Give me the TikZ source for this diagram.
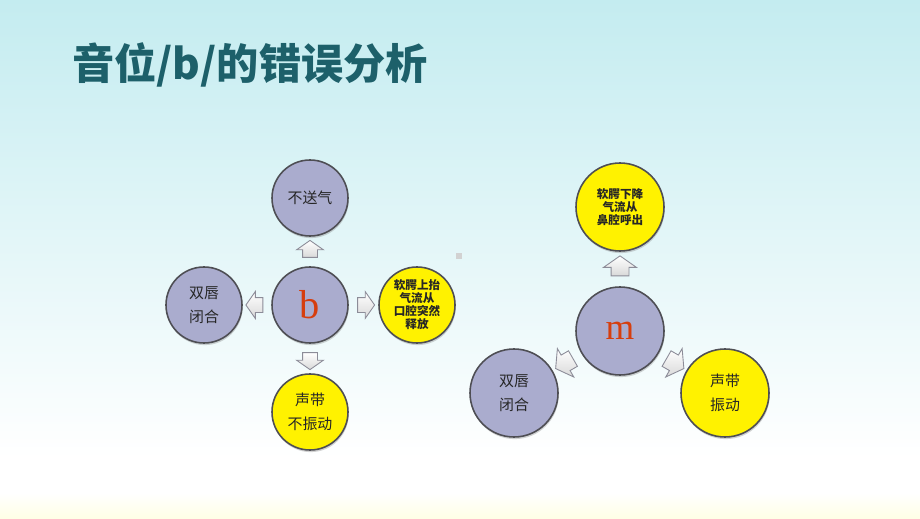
\documentclass[tikz,border=0pt]{standalone}
\usepackage{fontspec}
\setmainfont{Liberation Serif}
\newfontfamily\cjk{Noto Sans CJK SC}
\usetikzlibrary{shapes.arrows,shadows,calc}
\definecolor{bgtop}{RGB}{196,236,240}
\definecolor{titleteal}{RGB}{29,96,106}
\definecolor{lav}{RGB}{170,172,206}
\definecolor{rim}{RGB}{78,78,84}
\definecolor{letter}{RGB}{214,62,14}
\definecolor{arrowrim}{RGB}{140,140,152}

\begin{document}
\begin{tikzpicture}[
		bubble/.style={circle, draw=rim, line width=0.9pt, inner sep=0pt, align=center, text=black!85,
			drop shadow={opacity=0.35, shadow xshift=0.4pt, shadow yshift=-1.2pt}},
		grey/.style={bubble, fill=lav},
		sun/.style={bubble, fill=yellow},
		small/.style={minimum size=1.52cm},
		big/.style={minimum size=1.76cm},
		plain/.style={font=\cjk\fontsize{8.5}{14}\selectfont},
		dense/.style={font=\cjk\bfseries\fontsize{6.6}{7.4}\selectfont},
		pointer/.style={single arrow, draw=arrowrim, line width=0.5pt, top color=white, bottom color=gray!30,
			inner xsep=0pt, inner ysep=0.14cm, single arrow tip angle=110, minimum height=0.34cm,
			single arrow head extend=0.12cm},
		bigpointer/.style={pointer, inner ysep=0.17cm, minimum height=0.40cm, single arrow head extend=0.15cm}
	]
		\useasboundingbox (0,0) rectangle (18.4,10.36);
		\shade[top color=bgtop, bottom color=white] (0,1.2) rectangle (18.4,10.36);
		\fill[white] (0,0.5) rectangle (18.4,1.2);
		\shade[top color=white, bottom color=yellow!10] (0,0) rectangle (18.4,0.5);
		\fill[gray!35] (9.12,5.18) rectangle (9.24,5.30);

		\node[anchor=west, inner sep=0pt, text=titleteal, font=\cjk\bfseries\fontsize{24}{24}\selectfont] (title) at (1.44,9.06) {音位/b/的错误分析};

		\node[grey, small, plain] (b) at (6.2,4.26) {{\rmfamily\fontsize{23}{23}\selectfont\color{letter}b}};
		\node[grey, small, plain] (bnoasp) at (6.2,6.40) {不送气};
		\node[grey, small, plain] (blips) at (4.08,4.26) {双唇\\闭合};
		\node[sun, small, dense] (brelease) at (8.34,4.26) {软腭上抬\\气流从\\口腔突然\\释放};
		\node[sun, small, plain] (bvoice) at (6.2,2.12) {声带\\不振动};
		\node[pointer, rotate=90] (bup) at ($(b)!0.5!(bnoasp)$) {};
		\node[pointer, rotate=180] (bleft) at ($(b)!0.5!(blips)$) {};
		\node[pointer] (bright) at ($(b)!0.5!(brelease)$) {};
		\node[pointer, rotate=-90] (bdown) at ($(b)!0.5!(bvoice)$) {};

		\node[grey, big, plain] (m) at (12.4,3.74) {{\rmfamily\fontsize{21}{21}\selectfont\color{letter}m}};
		\node[sun, big, dense] (mnasal) at (12.4,6.22) {软腭下降\\气流从\\鼻腔呼出};
		\node[grey, big, plain] (mlips) at (10.28,2.50) {双唇\\闭合};
		\node[sun, big, plain] (mvoice) at (14.5,2.50) {声带\\振动};
		\node[bigpointer, rotate=90] (mup) at ($(m)!0.5!(mnasal)$) {};
		\node[bigpointer, rotate=210] (mleft) at ($(m)!0.5!(mlips)$) {};
		\node[bigpointer, rotate=-30] (mright) at ($(m)!0.5!(mvoice)$) {};
	\end{tikzpicture}
\end{document}
